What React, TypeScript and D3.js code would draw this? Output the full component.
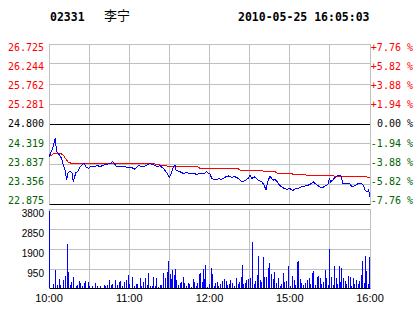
import React from 'react';
import * as d3 from 'd3';

const stockCode = '02331';
const stockName = '李宁';
const timestamp = '2010-05-25 16:05:03';

const priceTicks = [26.725, 26.244, 25.762, 25.281, 24.8, 24.319, 23.837, 23.356, 22.875];
const priceTickLabels = ['26.725', '26.244', '25.762', '25.281', '24.800', '24.319', '23.837', '23.356', '22.875'];
const pctTickLabels = ['+7.76 %', '+5.82 %', '+3.88 %', '+1.94 %', '0.00 %', '-1.94 %', '-3.88 %', '-5.82 %', '-7.76 %'];
const volTicks = [3800, 2850, 1900, 950];
const volTickLabels = ['3800', '2850', '1900', '950'];
const timeTickMinutes = [0, 60, 120, 180, 240];
const timeTickLabels = ['10:00', '11:00', '12:00', '15:00', '16:00'];
const gridMinutes = [30, 60, 90, 120, 150, 180, 210];

// price line (minutes from 10:00, trading time)
const priceMinutes = [0, 2.8, 4.0, 4.7, 5.2, 5.8, 7.0, 8.2, 9.5, 10.7, 12.0, 13.2, 14.0, 15.0, 16.5, 17.2, 18.2, 19.2, 20.0, 21.2, 22.2, 23.2, 24.5, 25.6, 26.4, 27.7, 29.4, 30.7, 34.4, 35.7, 38.1, 40.6, 43.1, 45.6, 47.6, 48.8, 50.1, 59.3, 61.8, 64.3, 66.8, 70.3, 75.5, 77.8, 81.5, 83.0, 85.5, 88.0, 90.0, 91.7, 92.9, 94.2, 95.0, 98.0, 100.4, 103.0, 105.4, 107.9, 110.4, 112.9, 115.4, 117.9, 119.0, 120.4, 121.7, 124.1, 126.6, 129.1, 131.6, 134.1, 136.6, 139.1, 141.5, 142.8, 144.1, 146.5, 149.0, 150.3, 151.6, 154.0, 156.5, 159.0, 160.8, 162.3, 163.2, 165.2, 166.5, 167.7, 169.0, 170.7, 172.2, 174.0, 175.7, 177.7, 180.2, 182.2, 183.9, 186.4, 188.9, 191.4, 193.9, 196.4, 197.6, 198.9, 201.4, 203.9, 205.6, 207.6, 208.8, 209.6, 210.6, 212.1, 213.8, 215.6, 217.1, 218.3, 219.6, 222.6, 225.1, 226.3, 228.8, 231.3, 233.8, 235.0, 236.3, 238.0, 238.9, 239.6, 240.0];
const priceValues = [24.01, 24.22, 24.37, 24.46, 24.29, 24.13, 24.09, 24.03, 23.97, 23.81, 23.69, 23.45, 23.62, 23.65, 23.65, 23.62, 23.41, 23.53, 23.63, 23.65, 23.69, 23.77, 23.81, 23.85, 23.84, 23.77, 23.73, 23.77, 23.77, 23.81, 23.77, 23.81, 23.83, 23.85, 23.89, 23.85, 23.79, 23.76, 23.75, 23.71, 23.80, 23.77, 23.85, 23.82, 23.77, 23.80, 23.73, 23.63, 23.52, 23.63, 23.77, 23.81, 23.69, 23.65, 23.61, 23.63, 23.60, 23.61, 23.59, 23.61, 23.60, 23.65, 23.61, 23.60, 23.49, 23.45, 23.48, 23.47, 23.52, 23.55, 23.52, 23.53, 23.49, 23.45, 23.41, 23.44, 23.49, 23.57, 23.49, 23.53, 23.45, 23.41, 23.33, 23.21, 23.37, 23.55, 23.49, 23.45, 23.47, 23.41, 23.33, 23.29, 23.25, 23.23, 23.25, 23.19, 23.24, 23.25, 23.29, 23.31, 23.33, 23.37, 23.41, 23.37, 23.31, 23.26, 23.29, 23.33, 23.36, 23.49, 23.41, 23.45, 23.51, 23.55, 23.57, 23.55, 23.37, 23.37, 23.36, 23.29, 23.32, 23.37, 23.37, 23.32, 23.21, 23.17, 23.21, 23.13, 23.05];

// average price line
const avgMinutes = [0, 3.2, 4.5, 8.2, 10.7, 13.2, 14.4, 17.0, 18.0, 79.0, 83.0, 87.5, 89.0, 111.4, 113.0, 141.3, 142.8, 159.3, 160.8, 169.0, 170.5, 181.5, 182.4, 191.4, 192.9, 212.3, 213.8, 236.3, 237.8, 240.0];
const avgValues = [24.01, 24.08, 24.10, 24.10, 24.05, 23.93, 23.88, 23.85, 23.84, 23.84, 23.81, 23.81, 23.77, 23.77, 23.73, 23.73, 23.69, 23.69, 23.65, 23.65, 23.62, 23.62, 23.59, 23.59, 23.56, 23.56, 23.54, 23.54, 23.52, 23.52];

// volume bars
const volMinutes = [0, 3.0, 4.7, 6.0, 7.5, 8.4, 10.5, 12.0, 13.5, 14.4, 15.5, 16.7, 17.9, 20.2, 21.2, 22.4, 23.4, 24.9, 25.9, 27.1, 28.9, 29.9, 32.4, 34.6, 35.9, 38.4, 40.9, 42.1, 43.6, 45.1, 46.4, 47.3, 49.3, 50.6, 52.1, 53.3, 54.6, 56.1, 57.3, 59.1, 60.0, 62.1, 63.6, 64.8, 66.0, 68.0, 69.0, 70.5, 71.8, 73.0, 74.2, 75.3, 76.8, 78.0, 79.3,
  80.0, 81.3, 82.8, 84.0, 85.5, 86.7, 88.2, 89.2, 90.2, 91.2, 92.2, 93.2, 94.4, 95.2, 96.2, 97.7, 98.7, 100.4, 101.2, 102.4, 103.9, 104.9, 106.4, 107.4, 108.4, 109.9, 110.9, 112.4, 113.1, 114.2, 115.4, 116.1, 116.9, 118.4, 119.4, 121.1, 122.1, 123.1, 124.1, 125.4, 126.6, 127.9, 129.1, 130.8, 132.1, 133.3, 134.6, 135.6, 137.1, 138.3, 139.8, 141.1, 142.1, 143.6, 144.5, 145.3, 146.6, 147.5, 149.0, 150.1, 151.8, 153.1, 154.0, 155.3, 156.5, 157.5, 158.7,
  159.8, 161.0, 162.3, 163.7, 164.7, 166.0, 167.3, 168.5, 170.0, 171.5, 172.5, 173.5, 174.7, 175.9, 177.2, 178.9, 180.4, 181.9, 183.0, 184.2, 185.2, 186.0, 187.7, 188.6, 190.1, 191.6, 192.9, 194.2, 195.1, 196.6, 197.6, 199.1, 200.2, 201.1, 202.6, 203.6, 205.1, 206.4, 207.3, 208.6, 209.6, 210.6, 212.1, 213.3, 214.4, 215.6, 216.6, 217.6, 218.6, 219.8, 221.1, 222.3, 223.6, 224.8, 226.0, 227.1, 228.3, 229.5, 230.8, 232.0, 233.1, 234.0, 235.3, 236.3, 237.3, 238.5, 239.5, 240.0];
const volValues = [3700, 220, 900, 200, 475, 200, 430, 620, 2140, 825, 190, 316, 555, 160, 190, 380, 270, 160, 270, 380, 316, 160, 140, 300, 140, 140, 190, 160, 190, 430, 190, 220, 430, 190, 316, 380, 160, 316, 430, 665, 240, 555, 160, 220, 220, 500, 160, 316, 540, 190, 745, 160, 160, 555, 160,
  500, 110, 190, 190, 745, 500, 825, 1330, 700, 475, 900, 665, 950, 430, 190, 270, 316, 555, 270, 160, 270, 220, 110, 475, 316, 160, 270, 700, 745, 350, 950, 475, 1140, 110, 220, 1015, 700, 160, 270, 316, 160, 220, 380, 475, 380, 190, 220, 430, 270, 160, 500, 220, 316, 590, 1140, 220, 270, 430, 460, 500, 2250, 220, 380, 665, 1580, 430, 350,
  1535, 590, 590, 1015, 1220, 700, 475, 790, 270, 540, 160, 220, 745, 316, 380, 1090, 160, 630, 430, 190, 1265, 1330, 475, 270, 190, 270, 430, 540, 220, 745, 855, 190, 590, 630, 540, 220, 316, 900, 500, 190, 1900, 590, 190, 1110, 500, 220, 1110, 350, 980, 500, 380, 220, 630, 590, 160, 500, 220, 430, 220, 380, 665, 1330, 270, 1580, 855, 220, 316, 1535];

const W = 414;
const H = 314;
const RED = '#ff0000';
const GREEN = '#006400';
const GRID = '#c0c0c0';
const MONO = '"DejaVu Sans Mono", "Liberation Mono", monospace';
const SANS = '"Liberation Sans", Arial, sans-serif';

export default function App() {
  const x = d3.scaleLinear().domain([0, 240]).range([49, 370]);
  const y = d3.scaleLinear().domain([22.875, 26.725]).range([204, 44]);
  const vy = d3.scaleLinear().domain([0, 3800]).range([289, 209]);
  const crisp = (v: number) => Math.floor(v) + 0.5;

  const priceLine = d3.line<number>()
    .x((_, i) => x(priceMinutes[i]))
    .y((d) => y(d));
  const avgLine = d3.line<number>()
    .x((_, i) => x(avgMinutes[i]))
    .y((d) => y(d));

  const xLeft = crisp(x(0));
  const xRight = crisp(x(240));

  return (
    <svg width={W} height={H} style={{ position: 'absolute', left: 0, top: 0, background: '#fff' }}>
      <rect x={0} y={0} width={W} height={H} fill="#fff" />
      {/* header */}
      <text x={50} y={21} fontFamily={MONO} fontWeight="bold" fontSize={11.5} fill="#000">{stockCode}</text>
      <text x={104} y={20} fontFamily='"Noto Sans CJK SC", sans-serif' fontSize={13} fill="#000">{stockName}</text>
      <text x={238} y={21} fontFamily={MONO} fontWeight="bold" fontSize={11.5} fill="#000">{timestamp}</text>

      {/* price panel grid */}
      {gridMinutes.map((m) => (
        <line key={'pv' + m} x1={crisp(x(m))} x2={crisp(x(m))} y1={44} y2={204} stroke={GRID} strokeWidth={1} />
      ))}
      {priceTicks.map((t, i) => {
        const yy = crisp(y(t));
        const black = i === 4 || i === 8;
        return (
          <line key={'ph' + i} x1={xLeft} x2={xRight} y1={yy} y2={yy} stroke={black ? '#000' : GRID} strokeWidth={1} />
        );
      })}
      <line x1={xLeft} x2={xLeft} y1={44} y2={204} stroke={GRID} />
      <line x1={xRight} x2={xRight} y1={44} y2={204} stroke={GRID} />

      {/* price axis labels */}
      {priceTickLabels.map((lab, i) => {
        const cy = 47 + (y(priceTicks[i]) - 44) * (153.3 / 160);
        const col = i < 4 ? RED : i === 4 ? '#000' : GREEN;
        return (
          <g key={'pl' + i}>
            <text x={44} y={cy + 3.7} textAnchor="end" fontFamily={MONO} fontSize={10} fill={col}>{lab}</text>
            <text x={413} y={cy + 3.7} textAnchor="end" fontFamily={MONO} fontSize={10} fill={col}>{pctTickLabels[i]}</text>
          </g>
        );
      })}

      {/* lines */}
      <path d={avgLine(avgValues) || ''} fill="none" stroke={RED} strokeWidth={1} shapeRendering="crispEdges" />
      <path d={priceLine(priceValues) || ''} fill="none" stroke="#0000ff" strokeWidth={1} shapeRendering="crispEdges" />

      {/* volume panel grid */}
      {gridMinutes.map((m) => (
        <line key={'vv' + m} x1={crisp(x(m))} x2={crisp(x(m))} y1={209} y2={288} stroke={GRID} strokeWidth={1} />
      ))}
      {volTicks.map((t) => (
        <line key={'vh' + t} x1={xLeft} x2={xRight} y1={crisp(vy(t))} y2={crisp(vy(t))} stroke={GRID} strokeWidth={1} />
      ))}
      <line x1={xLeft} x2={xLeft} y1={209} y2={288} stroke={GRID} />
      <line x1={xRight} x2={xRight} y1={209} y2={288} stroke={GRID} />

      {/* volume bars */}
      {volValues.map((v, i) => {
        const bx = Math.round(x(volMinutes[i]));
        const top = vy(v);
        return (
          <rect key={'vb' + i} x={Math.min(bx, 369)} y={top} width={1} height={288 - top} fill="#0000ff" shapeRendering="crispEdges" />
        );
      })}
      <line x1={xLeft} x2={xRight} y1={288.5} y2={288.5} stroke="#000" strokeWidth={1} />

      {/* volume labels */}
      {volTickLabels.map((lab, i) => (
        <text key={'vl' + i} x={44} y={vy(volTicks[i]) + 8} textAnchor="end" fontFamily={SANS} fontSize={10} fill="#000">{lab}</text>
      ))}

      {/* time labels */}
      {timeTickLabels.map((lab, i) => (
        <text key={'tl' + i} x={x(timeTickMinutes[i])} y={302} textAnchor="middle" fontFamily={SANS} fontSize={11} fill="#000">{lab}</text>
      ))}
    </svg>
  );
}
